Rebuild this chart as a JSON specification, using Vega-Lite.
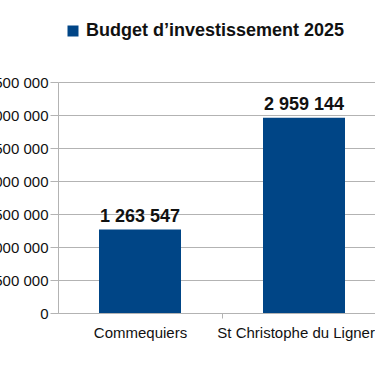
{
  "$schema": "https://vega.github.io/schema/vega-lite/v6.json",
  "autosize": {"type": "none"},
  "padding": {"left": 58, "top": 82, "right": -11, "bottom": 53},
  "width": 328,
  "height": 231,
  "background": "white",
  "config": {
    "font": "Liberation Sans",
    "view": {"stroke": null},
    "locale": {"number": {"decimal": ",", "thousands": " ", "grouping": [3], "currency": ["", " €"]}}
  },
  "data": {
    "values": [
      {"commune": "Commequiers", "budget": 1263547, "serie": "Budget d’investissement 2025"},
      {"commune": "St Christophe du Ligneron", "budget": 2959144, "serie": "Budget d’investissement 2025"}
    ]
  },
  "encoding": {
    "x": {
      "field": "commune", "type": "nominal", "sort": null,
      "scale": {"paddingInner": 0.5, "paddingOuter": 0.25},
      "axis": {
        "title": null, "labelAngle": 0, "labelFontSize": 15, "labelColor": "#111",
        "labelLimit": 0, "tickOffset": 82, "labelOffset": -82, "tickSize": 5,
        "tickColor": "#b3b3b3", "domainColor": "#b3b3b3", "labelPadding": 7, "grid": false
      }
    },
    "y": {
      "field": "budget", "type": "quantitative",
      "scale": {"domain": [0, 3500000], "nice": false},
      "axis": {
        "title": null, "values": [0, 500000, 1000000, 1500000, 2000000, 2500000, 3000000, 3500000],
        "format": ",d", "labelFontSize": 15, "labelColor": "#111", "tickSize": 8, "labelPadding": 2,
        "tickColor": "#b3b3b3", "domainColor": "#b3b3b3", "gridColor": "#b3b3b3", "grid": true
      }
    }
  },
  "layer": [
    {
      "mark": {"type": "bar"},
      "encoding": {
        "color": {
          "field": "serie", "type": "nominal",
          "scale": {"range": ["#004586"]},
          "legend": {
            "title": null, "orient": "none", "legendX": 6, "legendY": -60,
            "symbolType": "square", "symbolSize": 121, "symbolStrokeWidth": 0,
            "labelFontSize": 18, "labelFontWeight": "bold", "labelColor": "#111", "labelLimit": 0
          }
        }
      }
    },
    {
      "mark": {"type": "text", "fontSize": 18, "fontWeight": "bold", "dy": -8, "baseline": "alphabetic", "color": "#111"},
      "encoding": {
        "text": {"field": "budget", "type": "quantitative", "format": ",d"}
      }
    }
  ]
}
